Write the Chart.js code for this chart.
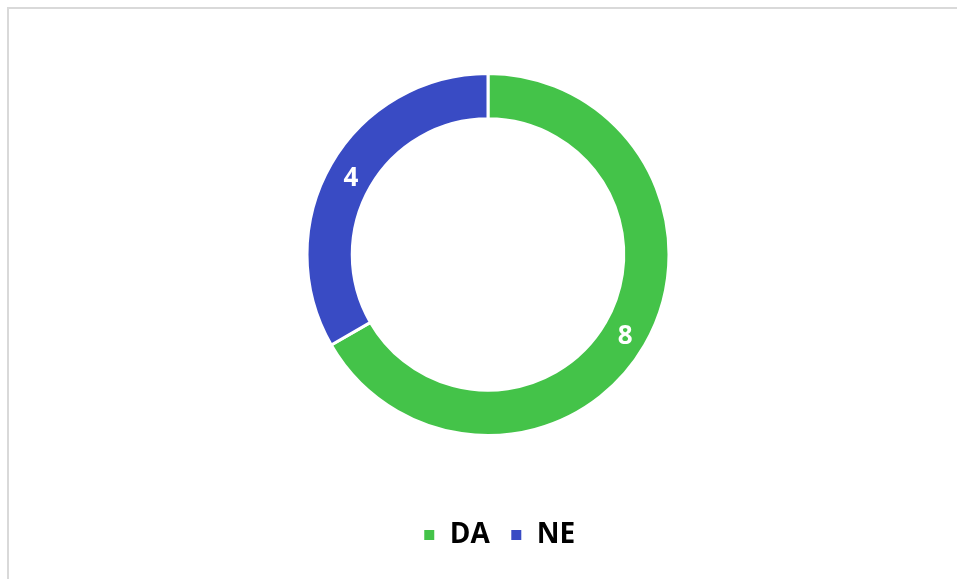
<!DOCTYPE html>
<html>
<head>
<meta charset="utf-8">
<script src="https://cdn.jsdelivr.net/npm/chart.js@4"></script>
<style>
    html, body { margin: 0; padding: 0; background: #fff; }
    #wrap { position: relative; width: 957px; height: 579px; }
    #frame {
        position: absolute; left: 7px; top: 7px; right: 0; bottom: 0;
        border-top: 2px solid #d9d9d9; border-left: 2px solid #d9d9d9;
        pointer-events: none;
    }
    canvas { position: absolute; left: 0; top: 0; }
</style>
</head>
<body>
<div id="wrap">
    <div id="frame"></div>
    <canvas id="answers" width="957" height="579"></canvas>
</div>
<script>
const categories = ['DA', 'NE'];
const counts = [8, 4];
const sliceColors = ['#44c349', '#394bc4'];

// nudge the legend to where it sits in the original
const legendShift = { x: 11, y: 64 };

const moveLegend = {
    id: 'moveLegend',
    afterLayout(chart) {
        const lg = chart.legend;
        lg.left += legendShift.x;
        lg.right += legendShift.x;
        lg.top += legendShift.y;
        lg.bottom += legendShift.y;
    }
};

// white numbers in the middle of each ring segment
const sliceValues = {
    id: 'sliceValues',
    afterDatasetsDraw(chart) {
        const ctx = chart.ctx;
        const meta = chart.getDatasetMeta(0);
        ctx.save();
        ctx.fillStyle = '#ffffff';
        ctx.font = 'bold 26px "Open Sans"';
        ctx.textAlign = 'center';
        ctx.textBaseline = 'middle';
        meta.data.forEach(function (arc, i) {
            const pos = arc.tooltipPosition();
            ctx.fillText(String(chart.data.datasets[0].data[i]), pos.x, pos.y + 3);
        });
        ctx.restore();
    }
};

const ctx = document.getElementById('answers').getContext('2d');
new Chart(ctx, {
    type: 'doughnut',
    data: {
        labels: categories,
        datasets: [{
            data: counts,
            backgroundColor: sliceColors,
            borderColor: '#ffffff',
            borderWidth: 3
        }]
    },
    options: {
        responsive: false,
        animation: false,
        cutout: '75%',
        layout: {
            padding: { top: 72, bottom: 84, left: 120, right: 101 }
        },
        plugins: {
            legend: {
                position: 'bottom',
                labels: {
                    boxWidth: 13,
                    boxHeight: 13,
                    padding: 20,
                    color: '#000000',
                    font: { family: '"Open Sans"', size: 28, weight: 'bold' }
                }
            },
            tooltip: { enabled: false }
        }
    },
    plugins: [moveLegend, sliceValues]
});
</script>
</body>
</html>
